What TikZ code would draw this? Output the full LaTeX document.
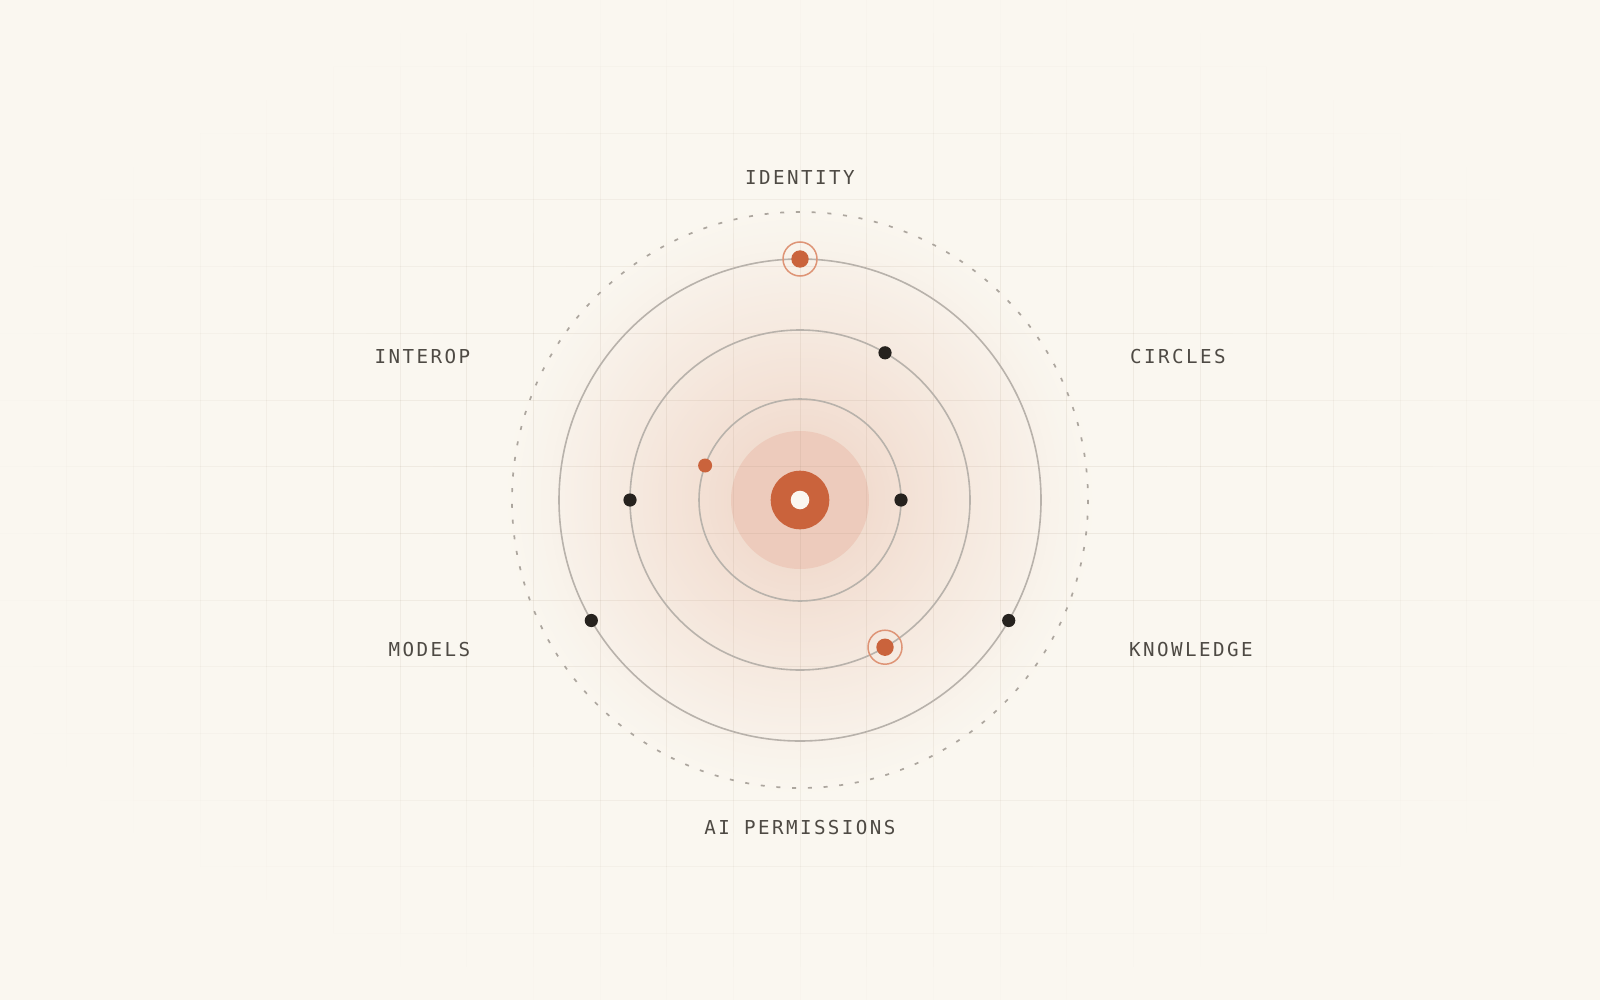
\documentclass[tikz,border=0pt]{standalone}
\usepackage{fontspec}
\newfontfamily\lblfont{DejaVu Sans Mono}[LetterSpace=12.7]
\definecolor{bg}{RGB}{250,247,240}
\definecolor{accent}{RGB}{202,99,60}
\definecolor{halo}{RGB}{237,203,188}
\definecolor{ringc}{RGB}{184,178,171}
\definecolor{dashc}{RGB}{172,166,158}
\definecolor{dotc}{RGB}{38,34,30}
\definecolor{ringo}{RGB}{222,148,118}
\definecolor{lbl}{RGB}{78,74,68}
\definecolor{gridc}{RGB}{140,115,90}
\definecolor{corec}{RGB}{251,247,240}
\tikzset{
  orbit/.style={draw=ringc, line width=0.8pt},
  outerorbit/.style={draw=dashc, line width=0.85pt, dash pattern=on 2pt off 5.868pt},
  bdot/.style={circle, fill=dotc, inner sep=0pt, minimum size=6.6pt},
  odot/.style={circle, fill=accent, inner sep=0pt, minimum size=8.7pt},
  sdot/.style={circle, fill=accent, inner sep=0pt, minimum size=7pt},
  oring/.style={circle, draw=ringo, line width=0.75pt, inner sep=0pt, minimum size=17pt},
  lab/.style={inner sep=0pt, text=lbl, font=\lblfont\fontsize{9.6pt}{11pt}\selectfont, anchor=base},
}
\begin{document}
\begin{tikzpicture}[x=0.5pt,y=-0.5pt]
\fill[bg] (0,0) rectangle (1600,1000);
\useasboundingbox (0,0) rectangle (1600,1000);
\coordinate (c) at (800,500);
% soft glow
\foreach \r in {295,292,...,70} {
  \pgfmathsetmacro\m{24*exp(1.1*ln(1-\r/298))}
  \fill[accent!\m!bg] (c) circle (\r);
}
% halo disc
\fill[halo] (c) circle (69);
% grid with radial fade
\foreach \i in {1,...,23} {
  \foreach \j in {0,...,29} {
    \pgfmathsetmacro\gx{\i*66.6667}
    \pgfmathsetmacro\gya{\j*33.3333}
    \pgfmathsetmacro\gyb{(\j+1)*33.3333}
    \pgfmathsetmacro\dd{sqrt(((\gx-800)/800)^2+(((\j+0.5)*33.3333-500)/500)^2)}
    \pgfmathsetmacro\a{0.1*min(1,max(0,(1.06-\dd)/0.6))}
    \ifdim\a pt>0.001pt
      \draw[gridc, draw opacity=\a, line width=0.5pt] (\gx,\gya) -- (\gx,\gyb);
    \fi
  }
}
\foreach \j in {1,...,14} {
  \foreach \i in {0,...,47} {
    \pgfmathsetmacro\gy{\j*66.6667}
    \pgfmathsetmacro\gxa{\i*33.3333}
    \pgfmathsetmacro\gxb{(\i+1)*33.3333}
    \pgfmathsetmacro\dd{sqrt((((\i+0.5)*33.3333-800)/800)^2+((\gy-500)/500)^2)}
    \pgfmathsetmacro\a{0.1*min(1,max(0,(1.06-\dd)/0.6))}
    \ifdim\a pt>0.001pt
      \draw[gridc, draw opacity=\a, line width=0.5pt] (\gxa,\gy) -- (\gxb,\gy);
    \fi
  }
}
% orbits
\draw[outerorbit] (c) circle (288);
\draw[orbit] (c) circle (241);
\draw[orbit] (c) circle (170);
\draw[orbit] (c) circle (101);
% core
\fill[accent] (c) circle (29.3);
\fill[corec] (c) circle (9.3);
% inner orbit dots
\node[bdot] (i1) at (901,500) {};
\node[sdot] (i2) at (705.1,465.5) {};
% middle orbit dots
\node[bdot] (m1) at (885,352.8) {};
\node[bdot] (m2) at (630,500) {};
\node[odot] (m3) at (885,647.2) {};
\node[oring] (m3r) at (m3) {};
% outer orbit dots
\node[odot] (o1) at (800,259) {};
\node[oring] (o1r) at (o1) {};
\node[bdot] (o2) at (1008.7,620.5) {};
\node[bdot] (o3) at (591.3,620.5) {};
% labels
\node[lab] (lid) at (800,184.3) {IDENTITY};
\node[lab] (lint) at (422.5,363.3) {INTEROP};
\node[lab] (lcir) at (1178,363.3) {CIRCLES};
\node[lab] (lmod) at (429.5,656) {MODELS};
\node[lab] (lkno) at (1191,656) {KNOWLEDGE};
\node[lab] (lai) at (800,834.3) {AI PERMISSIONS};
\end{tikzpicture}
\end{document}
